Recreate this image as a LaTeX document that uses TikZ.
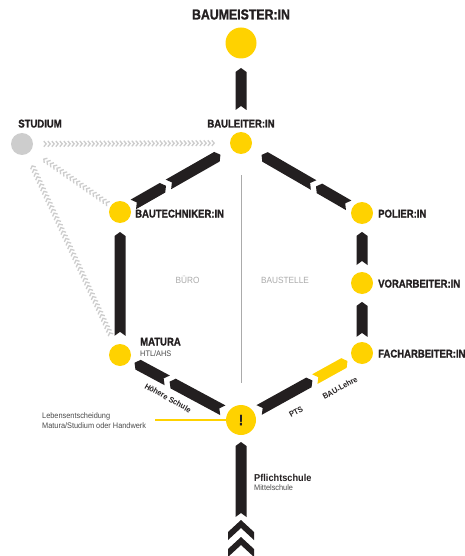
\documentclass[tikz,border=0pt]{standalone}
\usepackage{fontspec}
\setmainfont{Liberation Sans}[FakeStretch=0.92]
\newfontfamily\heavyfont{Liberation Sans}[FakeStretch=0.85, BoldFeatures={FakeBold=1.2}]
\usetikzlibrary{calc,decorations.markings}
\definecolor{yel}{HTML}{FFD200}
\definecolor{ink}{HTML}{231F20}
\definecolor{lgray}{HTML}{CDCDCD}
\definecolor{mgray}{HTML}{ABABAB}
\definecolor{dgray}{HTML}{4A4A4A}
\tikzset{
 dot/.style={circle, fill=yel, inner sep=0pt, minimum size=22pt},
 bigdot/.style={circle, fill=yel, inner sep=0pt, minimum size=31pt},
 graydot/.style={circle, fill=lgray, inner sep=0pt, minimum size=22pt},
 head/.style={font=\heavyfont\bfseries\fontsize{11.2}{12}\selectfont, text=ink, inner sep=0pt},
 title/.style={font=\heavyfont\bfseries\fontsize{14.5}{16}\selectfont, text=ink, inner sep=0pt},
 small/.style={font=\fontsize{8}{9}\selectfont, text=dgray, inner sep=0pt},
 area/.style={font=\fontsize{9}{10}\selectfont, text=mgray, inner sep=0pt},
 along/.style={font=\bfseries\fontsize{8}{9}\selectfont, text=ink, inner sep=0pt},
 chain/.style={decoration={markings, mark=between positions 0 and 1 step 4pt with {\draw[lgray, line width=1.3pt] (-1.2pt,2.8pt) -- (1.2pt,0pt) -- (-1.2pt,-2.8pt);}}, decorate},
}
\newcommand\band[3][ink]{%
 \coordinate (bT) at (#2); \coordinate (bH) at (#3);
 \coordinate (bHb) at ($(bH)!4pt!(bT)$);
 \coordinate (bTf) at ($(bT)!4pt!(bH)$);
 \fill[#1] ($(bT)!5.5pt!90:(bH)$) -- ($(bHb)!5.5pt!-90:(bT)$) -- (bH) -- ($(bHb)!5.5pt!90:(bT)$) -- ($(bT)!5.5pt!-90:(bH)$) -- (bTf) -- cycle;}
\begin{document}
\begin{tikzpicture}[x=1pt,y=-1pt]
\fill[white] (0,0) rectangle (465,556);
\useasboundingbox (0,0) rectangle (465,556);
% nodes
\node[bigdot] (bm) at (241,43) {};
\node[dot] (bl) at (241,143) {};
\node[dot] (bt) at (120,212) {};
\node[dot] (po) at (362,213) {};
\node[dot] (vo) at (362,283) {};
\node[dot] (fa) at (362,353) {};
\node[dot] (ma) at (120,355) {};
\node[bigdot, minimum size=30pt] (ex) at (241,420) {};
\node[font=\heavyfont\bfseries\fontsize{15}{16}\selectfont, text=ink, inner sep=0pt] (exl) at (ex) {!};
\node[graydot] (st) at (22,144) {};
% labels
\node[title, anchor=base] (tbm) at (241,19.5) {BAUMEISTER:IN};
\node[head, anchor=base] (tbl) at (241,127.5) {BAULEITER:IN};
\node[head, anchor=base] (tst) at (40,127.5) {STUDIUM};
\node[head, anchor=base west] (tbt) at (135,217.5) {BAUTECHNIKER:IN};
\node[head, anchor=base west] (tpo) at (378,217.5) {POLIER:IN};
\node[head, anchor=base west] (tvo) at (378,287.5) {VORARBEITER:IN};
\node[head, anchor=base west] (tfa) at (378,357.5) {FACHARBEITER:IN};
\node[head, anchor=base west] (tma) at (140,345.5) {MATURA};
\node[small, anchor=base west] (tma2) at (140,356) {HTL/AHS};
\node[font=\bfseries\fontsize{10}{11}\selectfont, text=ink, inner sep=0pt, anchor=base west] (tps) at (254,481.5) {Pflichtschule};
\node[small, anchor=base west] (tps2) at (254,490.5) {Mittelschule};
\node[area, anchor=base] (tbu) at (187.5,283) {BÜRO};
\node[area, anchor=base] (tba) at (285,283) {BAUSTELLE};
\node[small, anchor=base west] (tle1) at (42,418.5) {Lebensentscheidung};
\node[small, anchor=base west] (tle2) at (42,428) {Matura/Studium oder Handwerk};
\node[along, rotate=-29] (ths) at (168,398) {Höhere Schule};
\node[along, rotate=29] (tpt) at (296,412) {PTS};
\node[along, rotate=29] (tbl2) at (340,388) {BAU-Lehre};
% divider
\coordinate (dv1) at (241,175);
\coordinate (dv2) at (241,383);
\draw[mgray, line width=0.8pt] (dv1) -- (dv2);
% Lebensentscheidung line
\coordinate (le) at (155,420);
\draw[yel, line width=1.6pt] (le) -- (ex.west);
% gray chevron chains
\path[chain] ($(st)!0.105!(bl)$) -- ($(st)!0.885!(bl)$);
\path[chain] ($(bt)!0.13!(st)$) -- ($(bt)!0.8!(st)$);
\path[chain] ($(ma)!0.1!(st)$) -- ($(ma)!0.9!(st)$);
% bands
\band{$(bl)!0.33!(bm)$}{$(bl)!0.75!(bm)$}
\band{$(ma)!0.134!(bt)$}{$(ma)!0.86!(bt)$}
\band{$(vo)!0.257!(po)$}{$(vo)!0.73!(po)$}
\band{$(fa)!0.23!(vo)$}{$(fa)!0.73!(vo)$}
\band{$(bt)!0.11!(bl)$}{$(bt)!0.38!(bl)$}
\band{$(bt)!0.40!(bl)$}{$(bt)!0.83!(bl)$}
\band{$(po)!0.11!(bl)$}{$(po)!0.38!(bl)$}
\band{$(po)!0.40!(bl)$}{$(po)!0.83!(bl)$}
\band{$(ma)!0.85!(ex)$}{$(ma)!0.41!(ex)$}
\band{$(ma)!0.39!(ex)$}{$(ma)!0.12!(ex)$}
\band{$(ex)!0.15!(fa)$}{$(ex)!0.59!(fa)$}
\band[yel]{$(ex)!0.61!(fa)$}{$(ex)!0.88!(fa)$}
\coordinate (pst) at (241,517);
\band{pst}{$(ex)+(0,22)$}
% chevrons
\coordinate (ch1) at (241,520);
\coordinate (ch2) at (241,537);
\foreach \c in {ch1,ch2}{
 \fill[ink] ($(\c)+(-13,12)$) -- (\c) -- ($(\c)+(13,12)$) -- ($(\c)+(13,20)$) -- ($(\c)+(0,8)$) -- ($(\c)+(-13,20)$) -- cycle;
}
\end{tikzpicture}
\end{document}
